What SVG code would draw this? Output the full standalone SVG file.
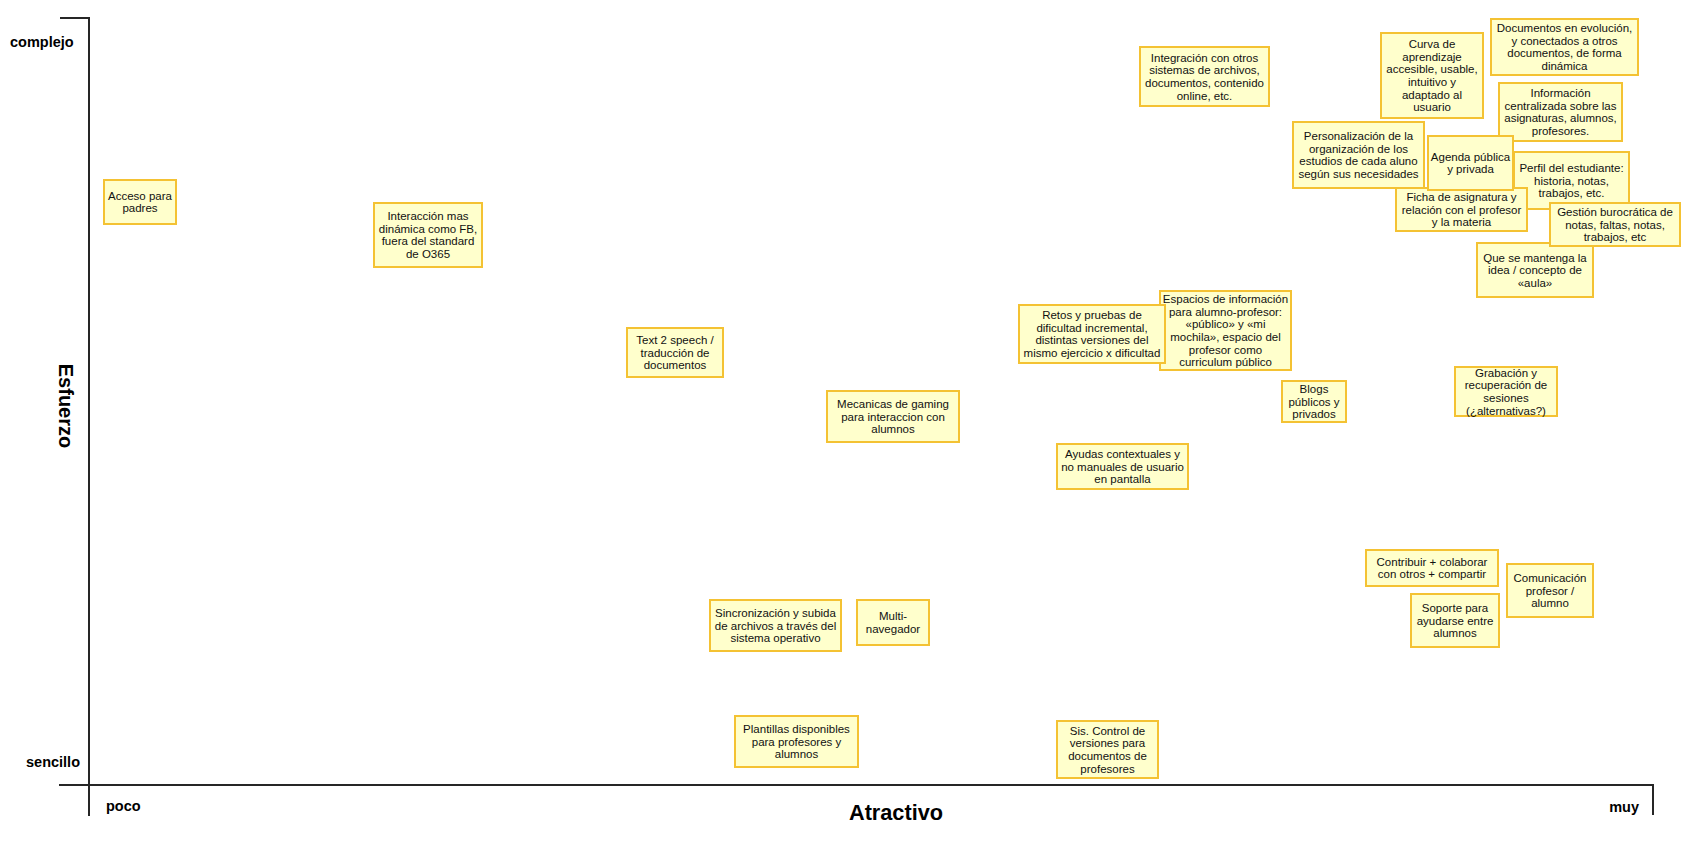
<svg xmlns="http://www.w3.org/2000/svg" width="1704" height="842" viewBox="0 0 1704 842">
<style>
.n rect{fill:#FFFFCC;stroke:#F4C233;stroke-width:2}
.n text{font-family:"Liberation Sans",Arial,sans-serif;font-size:11.5px;fill:#111;text-anchor:middle}
.ax{stroke:#262626;stroke-width:2;fill:none}
.lbl{font-family:"Liberation Sans",Arial,sans-serif;font-weight:bold;fill:#000}
</style>
<rect width="1704" height="842" fill="#fff"/>
<g id="axes">
<path class="ax" d="M60,18H89V816"/>
<path class="ax" d="M59,785H1653V815"/>
<text class="lbl" x="10" y="47" font-size="14.5">complejo</text>
<text class="lbl" x="80" y="767" font-size="14.5" text-anchor="end">sencillo</text>
<text class="lbl" x="106" y="811" font-size="14.5">poco</text>
<text class="lbl" x="1639" y="812" font-size="14.5" text-anchor="end">muy</text>
<text class="lbl" x="896" y="820" font-size="21.7" text-anchor="middle">Atractivo</text>
<text class="lbl" font-size="20" text-anchor="middle" transform="translate(58.5,406) rotate(90)">Esfuerzo</text>
</g>
<g id="connectors"></g>
<g id="nodes">
<g id="acceso" class="n"><rect x="104" y="180" width="72" height="44"/><text x="140"><tspan x="140" y="199.8">Acceso para</tspan><tspan x="140" y="212.4">padres</tspan></text></g>
<g id="interaccion" class="n"><rect x="374" y="203" width="108" height="64"/><text><tspan x="428" y="220.2">Interacción mas</tspan><tspan x="428" y="232.8">dinámica como FB,</tspan><tspan x="428" y="245.4">fuera del standard</tspan><tspan x="428" y="258">de O365</tspan></text></g>
<g id="text2speech" class="n"><rect x="627" y="328" width="96" height="49"/><text><tspan x="675" y="344">Text 2 speech /</tspan><tspan x="675" y="356.6">traducción de</tspan><tspan x="675" y="369.2">documentos</tspan></text></g>
<g id="mecanicas" class="n"><rect x="827" y="391" width="132" height="51"/><text><tspan x="893" y="408">Mecanicas de gaming</tspan><tspan x="893" y="420.6">para interaccion con</tspan><tspan x="893" y="433.2">alumnos</tspan></text></g>
<g id="espacios" class="n"><rect x="1160" y="291" width="131" height="79"/><text><tspan x="1225.5" y="303.1">Espacios de información</tspan><tspan x="1225.5" y="315.7">para alumno-profesor:</tspan><tspan x="1225.5" y="328.3">«público» y «mi</tspan><tspan x="1225.5" y="340.9">mochila», espacio del</tspan><tspan x="1225.5" y="353.5">profesor como</tspan><tspan x="1225.5" y="366.1">curriculum público</tspan></text></g>
<g id="retos" class="n"><rect x="1019" y="305" width="146" height="58"/><text><tspan x="1092" y="319.2">Retos y pruebas de</tspan><tspan x="1092" y="331.8">dificultad incremental,</tspan><tspan x="1092" y="344.4">distintas versiones del</tspan><tspan x="1092" y="357">mismo ejercicio x dificultad</tspan></text></g>
<g id="blogs" class="n"><rect x="1282" y="381" width="64" height="41"/><text><tspan x="1314" y="393">Blogs</tspan><tspan x="1314" y="405.6">públicos y</tspan><tspan x="1314" y="418.2">privados</tspan></text></g>
<g id="ayudas" class="n"><rect x="1057" y="444" width="131" height="45"/><text><tspan x="1122.5" y="458">Ayudas contextuales y</tspan><tspan x="1122.5" y="470.6">no manuales de usuario</tspan><tspan x="1122.5" y="483.2">en pantalla</tspan></text></g>
<g id="integracion" class="n"><rect x="1140" y="47" width="129" height="59"/><text><tspan x="1204.5" y="61.7">Integración con otros</tspan><tspan x="1204.5" y="74.3">sistemas de archivos,</tspan><tspan x="1204.5" y="86.9">documentos, contenido</tspan><tspan x="1204.5" y="99.5">online, etc.</tspan></text></g>
<g id="curva" class="n"><rect x="1381" y="33" width="102" height="85"/><text><tspan x="1432" y="48.1">Curva de</tspan><tspan x="1432" y="60.7">aprendizaje</tspan><tspan x="1432" y="73.3">accesible, usable,</tspan><tspan x="1432" y="85.9">intuitivo y</tspan><tspan x="1432" y="98.5">adaptado al</tspan><tspan x="1432" y="111.1">usuario</tspan></text></g>
<g id="documentos" class="n"><rect x="1491" y="19" width="147" height="56"/><text><tspan x="1564.5" y="32.2">Documentos en evolución,</tspan><tspan x="1564.5" y="44.8">y conectados a otros</tspan><tspan x="1564.5" y="57.4">documentos, de forma</tspan><tspan x="1564.5" y="70">dinámica</tspan></text></g>
<g id="informacion" class="n"><rect x="1499" y="83" width="123" height="58"/><text><tspan x="1560.5" y="97.2">Información</tspan><tspan x="1560.5" y="109.8">centralizada sobre las</tspan><tspan x="1560.5" y="122.4">asignaturas, alumnos,</tspan><tspan x="1560.5" y="135">profesores.</tspan></text></g>
<g id="personalizacion" class="n"><rect x="1293" y="122" width="131" height="66"/><text><tspan x="1358.5" y="140.2">Personalización de la</tspan><tspan x="1358.5" y="152.8">organización de los</tspan><tspan x="1358.5" y="165.4">estudios de cada aluno</tspan><tspan x="1358.5" y="178">según sus necesidades</tspan></text></g>
<g id="perfil" class="n"><rect x="1514" y="152" width="115" height="57"/><text><tspan x="1571.5" y="172">Perfil del estudiante:</tspan><tspan x="1571.5" y="184.6">historia, notas,</tspan><tspan x="1571.5" y="197.2">trabajos, etc.</tspan></text></g>
<g id="ficha" class="n"><rect x="1396" y="188" width="131" height="43"/><text><tspan x="1461.5" y="201">Ficha de asignatura y</tspan><tspan x="1461.5" y="213.6">relación con el profesor</tspan><tspan x="1461.5" y="226.2">y la materia</tspan></text></g>
<g id="agenda" class="n"><rect x="1428" y="136" width="85" height="54"/><text><tspan x="1470.5" y="160.8">Agenda pública</tspan><tspan x="1470.5" y="173.4">y privada</tspan></text></g>
<g id="aula" class="n"><rect x="1477" y="243" width="116" height="54"/><text><tspan x="1535" y="261.5">Que se mantenga la</tspan><tspan x="1535" y="274.1">idea / concepto de</tspan><tspan x="1535" y="286.7">«aula»</tspan></text></g>
<g id="gestion" class="n"><rect x="1550" y="203" width="130" height="43"/><text><tspan x="1615" y="216">Gestión burocrática de</tspan><tspan x="1615" y="228.6">notas, faltas, notas,</tspan><tspan x="1615" y="241.2">trabajos, etc</tspan></text></g>
<g id="grabacion" class="n"><rect x="1455" y="367" width="102" height="49"/><text><tspan x="1506" y="376.7">Grabación y</tspan><tspan x="1506" y="389.3">recuperación de</tspan><tspan x="1506" y="401.9">sesiones</tspan><tspan x="1506" y="414.5">(¿alternativas?)</tspan></text></g>
<g id="contribuir" class="n"><rect x="1366" y="550" width="132" height="36"/><text><tspan x="1432" y="565.8">Contribuir + colaborar</tspan><tspan x="1432" y="578.4">con otros + compartir</tspan></text></g>
<g id="comunicacion" class="n"><rect x="1507" y="564" width="86" height="53"/><text><tspan x="1550" y="582">Comunicación</tspan><tspan x="1550" y="594.6">profesor /</tspan><tspan x="1550" y="607.2">alumno</tspan></text></g>
<g id="soporte" class="n"><rect x="1411" y="594" width="88" height="53"/><text><tspan x="1455" y="612">Soporte para</tspan><tspan x="1455" y="624.6">ayudarse entre</tspan><tspan x="1455" y="637.2">alumnos</tspan></text></g>
<g id="sincronizacion" class="n"><rect x="710" y="600" width="131" height="51"/><text><tspan x="775.5" y="617">Sincronización y subida</tspan><tspan x="775.5" y="629.6">de archivos a través del</tspan><tspan x="775.5" y="642.2">sistema operativo</tspan></text></g>
<g id="multinavegador" class="n"><rect x="857" y="600" width="72" height="45"/><text><tspan x="893" y="620.3">Multi-</tspan><tspan x="893" y="632.9">navegador</tspan></text></g>
<g id="plantillas" class="n"><rect x="735" y="716" width="123" height="51"/><text><tspan x="796.5" y="733">Plantillas disponibles</tspan><tspan x="796.5" y="745.6">para profesores y</tspan><tspan x="796.5" y="758.2">alumnos</tspan></text></g>
<g id="versiones" class="n"><rect x="1057" y="721" width="101" height="57"/><text><tspan x="1107.5" y="734.7">Sis. Control de</tspan><tspan x="1107.5" y="747.3">versiones para</tspan><tspan x="1107.5" y="759.9">documentos de</tspan><tspan x="1107.5" y="772.5">profesores</tspan></text></g>
</g>
</svg>
